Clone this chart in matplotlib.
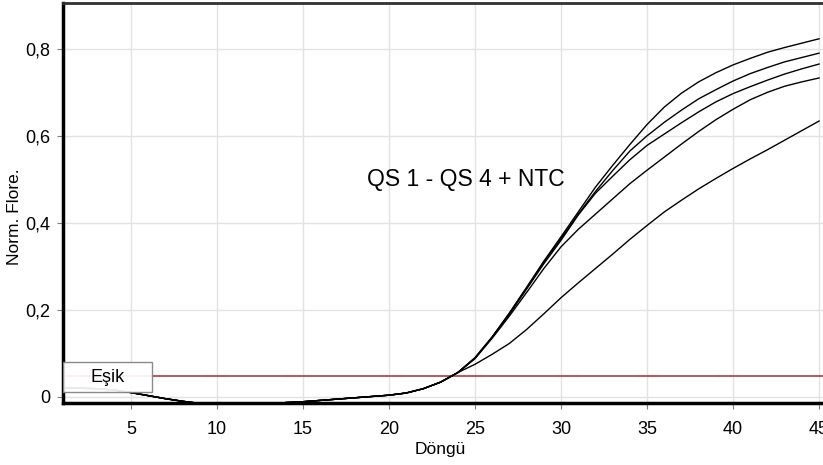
import numpy as np
import matplotlib.pyplot as plt
from matplotlib.patches import Rectangle

plt.rcParams['font.family'] = ['Liberation Sans', 'DejaVu Sans']

# Döngü (cycle) numbers
cycles = np.arange(1, 46)

# ortak taban çizgisi, döngü 1..24
baseline = [0.021, 0.020, 0.019, 0.016, 0.010, 0.003, -0.004, -0.010,
            -0.015, -0.018, -0.019, -0.019, -0.017, -0.013, -0.011, -0.008,
            -0.005, -0.002, 0.001, 0.004, 0.009, 0.019, 0.034, 0.056]

# eğrilerin devamı, döngü 25..45
tail_a = [0.090, 0.138, 0.193, 0.252, 0.312, 0.368, 0.425, 0.482, 0.532, 0.580, 0.626,
          0.666, 0.698, 0.724, 0.745, 0.763, 0.778, 0.792, 0.803, 0.813, 0.823]
tail_b = [0.090, 0.138, 0.192, 0.250, 0.310, 0.364, 0.420, 0.472, 0.520, 0.565, 0.600,
          0.631, 0.659, 0.685, 0.706, 0.726, 0.743, 0.757, 0.770, 0.780, 0.790]
tail_c = [0.089, 0.137, 0.190, 0.248, 0.306, 0.360, 0.418, 0.468, 0.507, 0.545, 0.578,
          0.604, 0.630, 0.655, 0.678, 0.697, 0.713, 0.728, 0.742, 0.754, 0.765]
tail_d = [0.088, 0.135, 0.186, 0.240, 0.295, 0.345, 0.385, 0.420, 0.455, 0.490, 0.521,
          0.551, 0.581, 0.610, 0.637, 0.661, 0.683, 0.700, 0.714, 0.724, 0.733]
tail_e = [0.075, 0.098, 0.123, 0.155, 0.191, 0.228, 0.262, 0.295, 0.328, 0.362, 0.394,
          0.425, 0.452, 0.478, 0.502, 0.525, 0.547, 0.568, 0.590, 0.612, 0.634]

threshold = 0.048

x_ticks = [5, 10, 15, 20, 25, 30, 35, 40, 45]
y_ticks = [0, 0.2, 0.4, 0.6, 0.8]
y_tick_labels = ['0', '0,2', '0,4', '0,6', '0,8']

fig = plt.figure(figsize=(8.23, 4.65), dpi=100)
ax = fig.add_axes([0.0766, 0.1333, 0.9234, 0.86])

for tail in [tail_a, tail_b, tail_c, tail_d, tail_e]:
    y = np.array(baseline + tail)
    ax.plot(cycles, y, color='black', linewidth=1.0, zorder=3)

# eşik çizgisi
ax.axhline(threshold, color='#b03a3a', linewidth=1.2, zorder=2)

# Eşik etiketi kutusu
ax.add_patch(Rectangle((0.0, 0.0275), 0.117, 0.075, transform=ax.transAxes,
                       facecolor='white', edgecolor='#808080', linewidth=1.0,
                       alpha=0.92, zorder=5))
ax.text(0.059, 0.063, 'Eşik', transform=ax.transAxes, fontsize=13,
        ha='center', va='center', zorder=6)

ax.text(0.530, 0.56, 'QS 1 - QS 4 + NTC', transform=ax.transAxes, fontsize=16.5,
        ha='center', va='center')

ax.set_xlim(1.05, 45.23)
ax.set_ylim(-0.014, 0.905)
ax.set_xticks(x_ticks)
ax.set_yticks(y_ticks)
ax.set_yticklabels(y_tick_labels)
ax.tick_params(labelsize=13, length=4, color='#808080', direction='out')
ax.tick_params(axis='x', pad=9)
ax.tick_params(axis='y', pad=5)
ax.grid(True, color='#e2e2e2', linewidth=1.0, zorder=0)
ax.set_axisbelow(True)

ax.spines['left'].set_linewidth(2.5)
ax.spines['bottom'].set_linewidth(2.5)
ax.spines['top'].set_linewidth(2.0)
ax.spines['top'].set_color('#303030')
ax.spines['right'].set_visible(False)

ax.set_xlabel('Döngü', fontsize=12.5)
ax.set_ylabel('Norm. Flore.', fontsize=12.5)
ax.xaxis.set_label_coords(0.497, -0.098)
ax.yaxis.set_label_coords(-0.054, 0.466)

plt.savefig('out.png', dpi=100)
